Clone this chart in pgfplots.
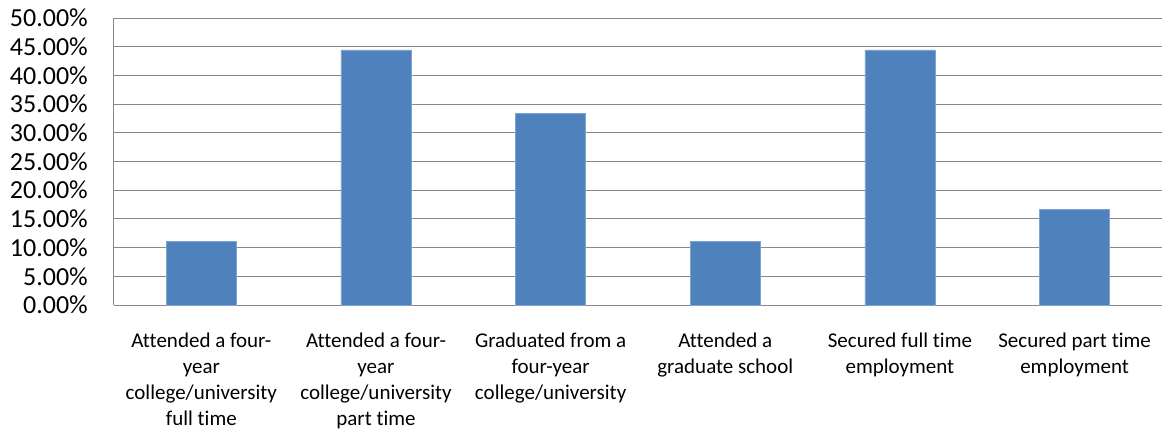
\documentclass[border=0pt]{standalone}
\usepackage{pgfplots}
\pgfplotsset{compat=1.18}
\usepackage{fontspec}
\setmainfont{Carlito}[Ligatures={NoCommon}]
\definecolor{barblue}{HTML}{4F81BD}
\definecolor{baredge}{HTML}{7FA3D2}
\definecolor{gridgray}{HTML}{888888}
\begin{document}
\begin{tikzpicture}
\path[use as bounding box] (-114pt,-127pt) rectangle (1051pt,305pt);
\begin{axis}[
  at={(0pt,0pt)}, anchor=south west,
  scale only axis,
  width=1048pt, height=287pt,
  xmin=-0.5, xmax=5.5,
  ymin=0, ymax=50,
  axis x line=bottom, axis y line=left,
  axis line style={gridgray, line width=1pt, -},
  ymajorgrids,
  grid style={gridgray, line width=1pt},
  major tick length=0pt,
  xtick={0,1,2,3,4,5},
  xticklabels={
    {Attended a four-\\year\\college/university\\full time},
    {Attended a four-\\year\\college/university\\part time},
    {Graduated from a\\four-year\\college/university},
    {Attended a\\graduate school},
    {Secured full time\\employment},
    {Secured part time\\employment}},
  xticklabel style={anchor=north, inner sep=0pt, yshift=-28pt, align=center,
    font=\fontsize{21}{26}\selectfont, text=black},
  ytick={0,5,10,15,20,25,30,35,40,45,50},
  yticklabels={0.00\%,5.00\%,10.00\%,15.00\%,20.00\%,25.00\%,30.00\%,35.00\%,40.00\%,45.00\%,50.00\%},
  yticklabel style={anchor=east, inner sep=0pt, xshift=-26pt,
    font=\fontsize{26}{31}\selectfont, text=black},
  ybar, bar width=70pt,
  bar shift=0pt,
]
\addplot[fill=barblue, draw=baredge, line width=0.8pt] coordinates {
  (0,11.11) (1,44.44) (2,33.33) (3,11.11) (4,44.44) (5,16.67)
};
\end{axis}
\end{tikzpicture}
\end{document}
